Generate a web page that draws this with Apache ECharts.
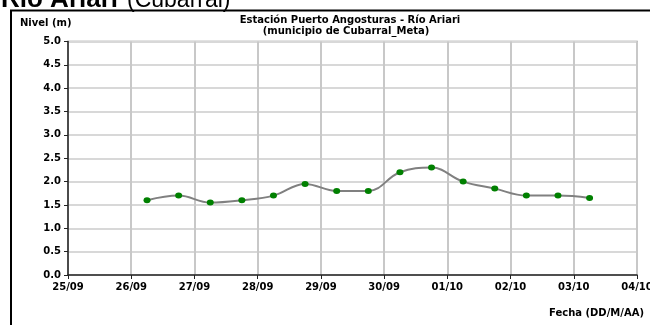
<!DOCTYPE html>
<html>
<head>
<meta charset="utf-8">
<script src="https://cdn.jsdelivr.net/npm/echarts@6/dist/echarts.min.js"></script>
<style>
html,body{margin:0;padding:0;background:#fff;}
#chart{width:650px;height:325px;}
</style>
</head>
<body>
<div id="chart"></div>
<script>
// Data
var dates = ['2010-09-26 06:00','2010-09-26 18:00','2010-09-27 06:00','2010-09-27 18:00','2010-09-28 06:00','2010-09-28 18:00','2010-09-29 06:00','2010-09-29 18:00','2010-09-30 06:00','2010-09-30 18:00','2010-10-01 06:00','2010-10-01 18:00','2010-10-02 06:00','2010-10-02 18:00','2010-10-03 06:00'];
var nivel = [1.6, 1.7, 1.55, 1.6, 1.7, 1.95, 1.8, 1.8, 2.2, 2.3, 2.0, 1.85, 1.7, 1.7, 1.65];
var xMin = '2010-09-25 00:00';
var xMax = '2010-10-04 00:00';
var yMin = 0, yMax = 5, yStep = 0.5;
var pageTitleBold = 'Río Ariari';
var pageTitleRegular = '(Cubarral)';
var chartTitle = ['Estación Puerto Angosturas - Río Ariari', '(municipio de Cubarral_Meta)'];
var yName = 'Nivel (m)';
var xName = 'Fecha (DD/M/AA)';

var FONT = 'DejaVu Sans';
var seriesData = dates.map(function (d, i) { return [d, nivel[i]]; });
function pad(n) { return (n < 10 ? '0' : '') + n; }

var chart = echarts.init(document.getElementById('chart'), null, {renderer: 'canvas'});
chart.setOption({
  animation: false,
  backgroundColor: '#ffffff',
  grid: {
    left: 68, right: 13, top: 41.5, bottom: 50,
    containLabel: false, outerBoundsMode: 'none',
    show: true, borderColor: '#8a8a8a', borderWidth: 1.5, backgroundColor: 'transparent'
  },
  xAxis: {
    type: 'time',
    min: xMin, max: xMax,
    minInterval: 86400000, maxInterval: 86400000, splitNumber: 9,
    axisLine: {show: true, lineStyle: {color: '#222', width: 1.5}},
    axisTick: {show: true, length: 4, lineStyle: {color: '#222', width: 1}},
    splitLine: {show: true, lineStyle: {color: '#c8c8c8', width: 2}},
    axisLabel: {
      show: true, showMinLabel: true, showMaxLabel: true, hideOverlap: false,
      margin: 7, color: '#000', fontFamily: FONT, fontWeight: 'bold', fontSize: 10,
      formatter: function (v) { var d = new Date(v); return pad(d.getDate()) + '/' + pad(d.getMonth() + 1); }
    }
  },
  yAxis: {
    type: 'value', min: yMin, max: yMax, interval: yStep,
    axisLine: {show: true, lineStyle: {color: '#222', width: 1.5}},
    axisTick: {show: true, inside: false, length: 4, lineStyle: {color: '#222', width: 1}},
    splitLine: {show: true, lineStyle: {color: '#d8d8d8', width: 2}},
    axisLabel: {
      margin: 7, color: '#000', fontFamily: FONT, fontWeight: 'bold', fontSize: 10,
      formatter: function (v) { return v.toFixed(1); }
    }
  },
  series: [{
    type: 'line',
    data: seriesData,
    smooth: 0.4,
    lineStyle: {color: '#808080', width: 2},
    symbol: 'circle',
    symbolSize: [7, 6],
    itemStyle: {color: '#008000', borderWidth: 0},
    z: 5
  }],
  graphic: [
    {type: 'rect', z: 0, silent: true,
      shape: {x: 11, y: 10.5, width: 800, height: 500},
      style: {fill: 'none', stroke: '#000', lineWidth: 2}},
    {type: 'text', z: 10, x: 1, y: 13,
      style: {text: pageTitleBold, fontFamily: 'Liberation Sans', fontWeight: 'bold', fontSize: 26, lineHeight: 26, fill: '#000', verticalAlign: 'bottom'}},
    {type: 'text', z: 10, x: 127, y: 12.5,
      style: {text: pageTitleRegular, fontFamily: 'Liberation Sans', fontWeight: 'normal', fontSize: 23, lineHeight: 23, fill: '#000', verticalAlign: 'bottom'}},
    {type: 'text', z: 10, x: 20, y: 23,
      style: {text: yName, fontFamily: FONT, fontWeight: 'bold', fontSize: 10, fill: '#000', verticalAlign: 'middle'}},
    {type: 'text', z: 10, x: 350, y: 20,
      style: {text: chartTitle[0], fontFamily: FONT, fontWeight: 'bold', fontSize: 10, fill: '#000', align: 'center', verticalAlign: 'middle'}},
    {type: 'text', z: 10, x: 346, y: 31,
      style: {text: chartTitle[1], fontFamily: FONT, fontWeight: 'bold', fontSize: 10, fill: '#000', align: 'center', verticalAlign: 'middle'}},
    {type: 'text', z: 10, x: 549, y: 313,
      style: {text: xName, fontFamily: FONT, fontWeight: 'bold', fontSize: 10, fill: '#000', verticalAlign: 'middle'}}
  ]
});
</script>
</body>
</html>
